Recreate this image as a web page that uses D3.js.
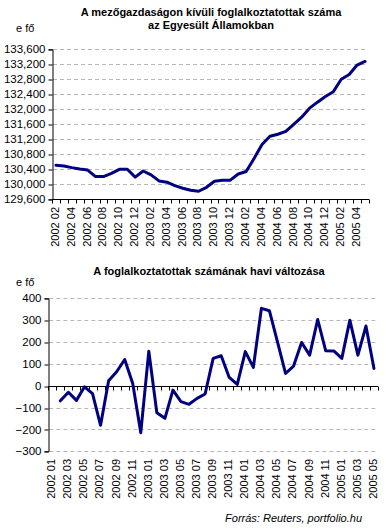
<!DOCTYPE html>
<html>
<head>
<meta charset="utf-8">
<script src="https://cdn.jsdelivr.net/npm/d3@7"></script>
<style>
  body { margin: 0; background: #fff; }
  svg { display: block; font-family: "Liberation Sans", Arial, sans-serif; }
  .grid line { stroke: #b8b8b8; stroke-dasharray: 4 3; }
</style>
</head>
<body>
<svg id="chart" width="392" height="528"></svg>
<script>
// months shown on the lower chart; the upper one starts one month later
const months = [
  "2002 01", "2002 02", "2002 03", "2002 04", "2002 05", "2002 06", "2002 07", "2002 08",
  "2002 09", "2002 10", "2002 11", "2002 12", "2003 01", "2003 02", "2003 03", "2003 04",
  "2003 05", "2003 06", "2003 07", "2003 08", "2003 09", "2003 10", "2003 11", "2003 12",
  "2004 01", "2004 02", "2004 03", "2004 04", "2004 05", "2004 06", "2004 07", "2004 08",
  "2004 09", "2004 10", "2004 11", "2004 12", "2005 01", "2005 02", "2005 03", "2005 04",
  "2005 05"
]
const levelMonths = months.slice(1)

// nonfarm employment, thousands
const levels = [
  130510, 130490, 130445, 130410, 130380, 130205, 130205, 130290, 130400, 130400,
  130190, 130355, 130250, 130090, 130055, 129965, 129895, 129840, 129815, 129920,
  130080, 130105, 130110, 130275, 130340, 130690, 131060, 131280, 131335, 131410,
  131600, 131790, 132030, 132190, 132340, 132470, 132800, 132930, 133180, 133275
]

// monthly change, thousands (no value for the first month)
const changes = [
  null, -69, -30, -67, -5, -36, -181, 23, 64, 120,
  10, -215, 158, -124, -149, -20, -73, -85, -58, -38,
  125, 137, 38, 6, 156, 84, 354, 343, 201, 56,
  90, 198, 140, 303, 160, 159, 125, 300, 140, 273,
  79
]

const levelTicks = [129600, 130000, 130400, 130800, 131200, 131600, 132000, 132400, 132800, 133200, 133600]
const changeTicks = [-300, -200, -100, 0, 100, 200, 300, 400]

const svg = d3.select("#chart")
const lineColor = "#000080"

function drawPanel(opts) {
  const { cats, values, ticks, left, right, top, bottom, axisAt, labelTop, yFmt } = opts

  const x = d3.scaleBand().domain(cats).range([left, right]).paddingInner(0).paddingOuter(0)
  const y = d3.scaleLinear().domain([ticks[0], ticks[ticks.length - 1]]).range([bottom, top])
  const cx = d => x(d) + x.bandwidth() / 2

  // dashed gridlines
  svg.append("g")
    .attr("class", "grid")
    .selectAll("line")
    .data(ticks.filter(t => t !== axisAt))
    .join("line")
    .attr("x1", left + 1)
    .attr("x2", right - 2)
    .attr("y1", d => Math.round(y(d)) + 0.5)
    .attr("y2", d => Math.round(y(d)) + 0.5)

  // value axis
  const yAxis = d3.axisLeft(y)
    .tickValues(ticks)
    .tickSize(4)
    .tickPadding(3)
    .tickFormat(yFmt)
  const gy = svg.append("g")
    .attr("transform", `translate(${Math.round(left) + 0.5},0)`)
    .call(yAxis)
  gy.select(".domain").attr("stroke", "#000")
  gy.selectAll(".tick line").attr("stroke", "#000")
    .attr("transform", d => `translate(0,${Math.round(y(d)) + 0.5 - y(d)})`)
  gy.selectAll(".tick text")
    .attr("fill", "#000")
    .style("font-size", "11.5px")
    .style("font-family", "'Liberation Sans', Arial, sans-serif")

  // category axis: line plus ticks between categories
  const ay = Math.round(y(axisAt)) + 0.5
  const g = svg.append("g")
  g.append("line")
    .attr("x1", left).attr("x2", right)
    .attr("y1", ay).attr("y2", ay)
    .attr("stroke", "#000")
  const bounds = cats.map(c => x(c)).concat([right])
  g.selectAll("line.tk")
    .data(bounds)
    .join("line")
    .attr("class", "tk")
    .attr("x1", d => Math.round(d) + 0.5)
    .attr("x2", d => Math.round(d) + 0.5)
    .attr("y1", ay)
    .attr("y2", ay + 4)
    .attr("stroke", "#000")

  // category labels, every second one, rotated
  g.selectAll("text")
    .data(cats.filter((c, i) => i % 2 === 0))
    .join("text")
    .attr("transform", d => `translate(${cx(d) - 1},${labelTop}) rotate(-90)`)
    .attr("dy", "0.35em")
    .attr("text-anchor", "end")
    .style("font-size", "11px")
    .text(d => d)

  // the series
  const pts = cats.map((c, i) => [c, values[i]])
  const line = d3.line()
    .defined(d => d[1] !== null)
    .x(d => cx(d[0]))
    .y(d => y(d[1]))
  svg.append("path")
    .datum(pts)
    .attr("fill", "none")
    .attr("stroke", lineColor)
    .attr("stroke-width", 3)
    .attr("stroke-linejoin", "round")
    .attr("stroke-linecap", "round")
    .attr("d", line)
}

// upper chart
svg.append("text")
  .attr("x", 211).attr("y", 15.5)
  .attr("text-anchor", "middle")
  .style("font-size", "11px").style("font-weight", "bold")
  .text("A mezőgazdaságon kívüli foglalkoztatottak száma")
svg.append("text")
  .attr("x", 211).attr("y", 29)
  .attr("text-anchor", "middle")
  .style("font-size", "11px").style("font-weight", "bold")
  .text("az Egyesült Államokban")
svg.append("text")
  .attr("x", 16).attr("y", 32)
  .style("font-size", "11px")
  .text("e fő")

drawPanel({
  cats: levelMonths,
  values: levels,
  ticks: levelTicks,
  left: 52, right: 369, top: 49.3, bottom: 199.3,
  axisAt: 129600,
  labelTop: 207,
  yFmt: d3.format(",")
})

// lower chart
svg.append("text")
  .attr("x", 209).attr("y", 274.5)
  .attr("text-anchor", "middle")
  .style("font-size", "11px").style("font-weight", "bold")
  .text("A foglalkoztatottak számának havi változása")
svg.append("text")
  .attr("x", 16).attr("y", 285.5)
  .style("font-size", "11px")
  .text("e fő")

drawPanel({
  cats: months,
  values: changes,
  ticks: changeTicks,
  left: 48.3, right: 378, top: 298.3, bottom: 451.3,
  axisAt: 0,
  labelTop: 459,
  yFmt: d3.format("d")
})

svg.append("text")
  .attr("x", 362).attr("y", 522)
  .attr("text-anchor", "end")
  .style("font-size", "11px").style("font-style", "italic")
  .text("Forrás: Reuters, portfolio.hu")
</script>
</body>
</html>
